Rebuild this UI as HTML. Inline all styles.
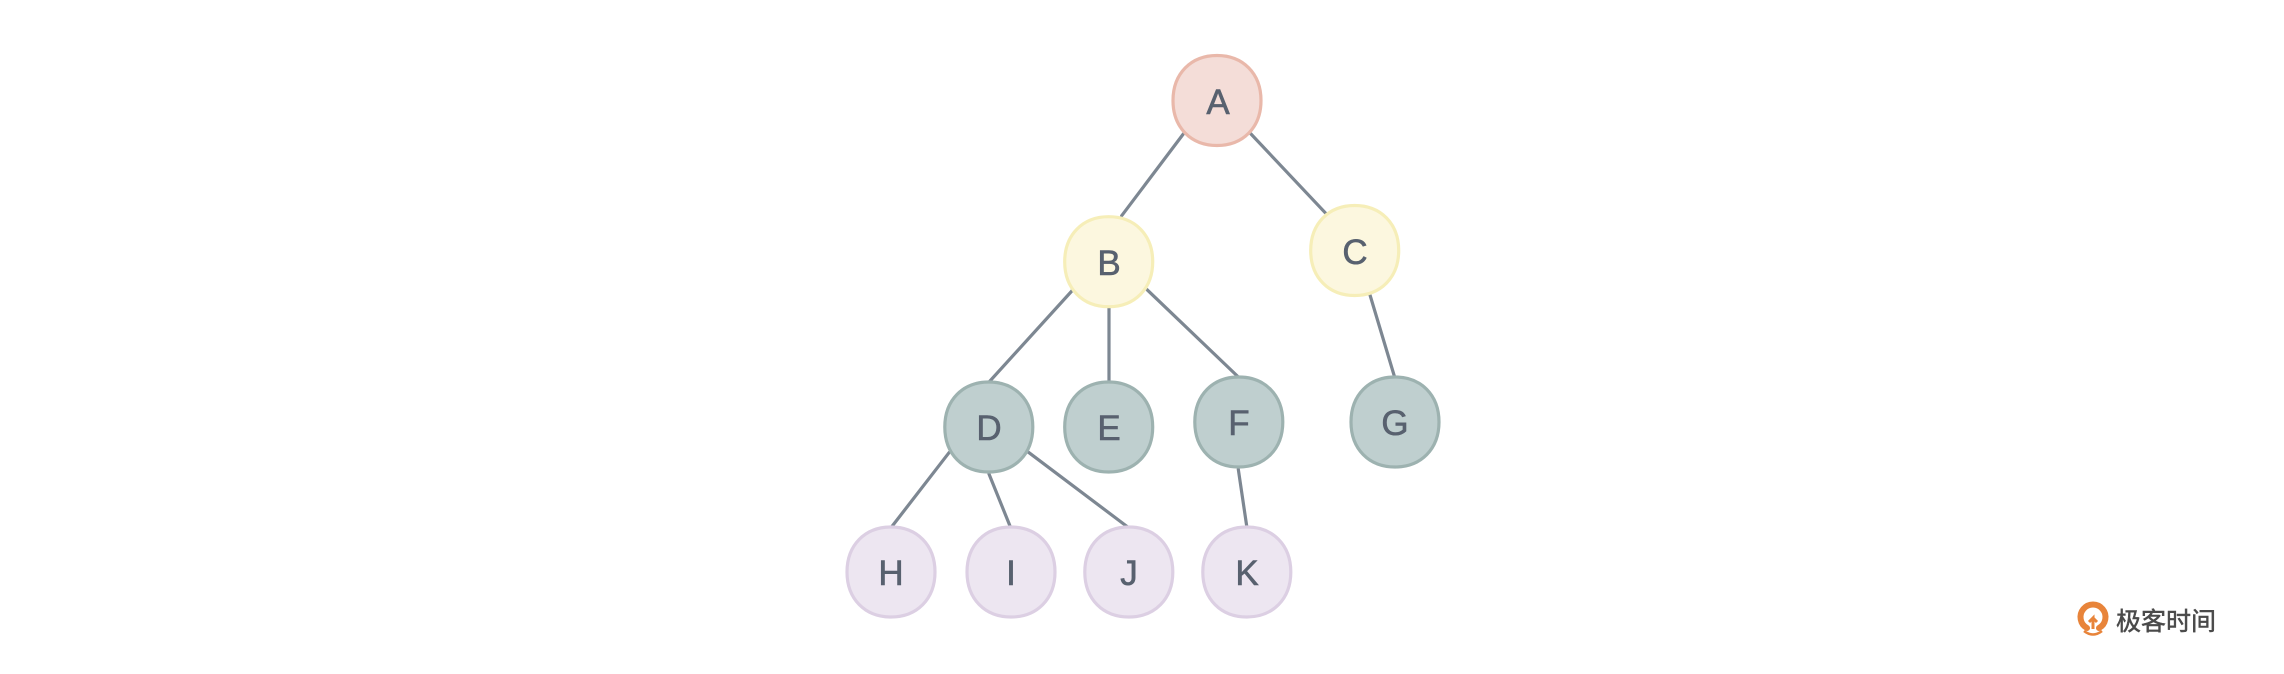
<!DOCTYPE html>
<html>
<head>
<meta charset="utf-8">
<style>
html,body{margin:0;padding:0;background:#ffffff;}
body{width:2284px;height:674px;overflow:hidden;}
svg{display:block;}
text{font-family:"Liberation Sans",Arial,sans-serif;}
</style>
</head>
<body>
<svg width="2284" height="674" viewBox="0 0 2284 674" xmlns="http://www.w3.org/2000/svg">
  <defs>
    <path id="n" d="M0,-45 C26,-45 44,-27 44,0 C44,27 26,45 0,45 C-26,45 -44,27 -44,0 C-44,-27 -26,-45 0,-45 Z"/>
  </defs>
  <rect width="2284" height="674" fill="#ffffff"/>
  <!-- edges -->
  <g stroke="#7d8792" stroke-width="3.2" stroke-linecap="round" fill="none">
    <line x1="1183.3" y1="134" x2="1121.7" y2="215.7"/>
    <line x1="1251" y1="134" x2="1326.7" y2="214.3"/>
    <line x1="1370" y1="295" x2="1394.3" y2="376"/>
    <line x1="1072.7" y1="290" x2="990" y2="381"/>
    <line x1="1109" y1="308" x2="1109" y2="381"/>
    <line x1="1146" y1="288.7" x2="1237.3" y2="376"/>
    <line x1="1238.3" y1="469.3" x2="1246.7" y2="526"/>
    <line x1="949" y1="452.7" x2="892.3" y2="526"/>
    <line x1="989" y1="474" x2="1010" y2="526"/>
    <line x1="1027.7" y1="451.7" x2="1127.7" y2="527"/>
  </g>
  <!-- nodes -->
  <g stroke-width="3.2">
    <use href="#n" transform="translate(1217,100.5)" fill="#f4ddd8" stroke="#e9b8aa"/>
    <use href="#n" transform="translate(1108.7,261.7)" fill="#fcf7df" stroke="#f6eeb8"/>
    <use href="#n" transform="translate(1354.7,250.5)" fill="#fcf7df" stroke="#f6eeb8"/>
    <use href="#n" transform="translate(988.8,427)" fill="#bfcfcf" stroke="#9db2b0"/>
    <use href="#n" transform="translate(1108.7,427)" fill="#bfcfcf" stroke="#9db2b0"/>
    <use href="#n" transform="translate(1238.8,422)" fill="#bfcfcf" stroke="#9db2b0"/>
    <use href="#n" transform="translate(1395,422)" fill="#bfcfcf" stroke="#9db2b0"/>
    <use href="#n" transform="translate(891,572)" fill="#ede6f1" stroke="#dccfe3"/>
    <use href="#n" transform="translate(1011,572)" fill="#ede6f1" stroke="#dccfe3"/>
    <use href="#n" transform="translate(1128.8,572)" fill="#ede6f1" stroke="#dccfe3"/>
    <use href="#n" transform="translate(1246.8,572)" fill="#ede6f1" stroke="#dccfe3"/>
  </g>
  <!-- labels -->
  <g fill="#58616f" font-size="35" text-anchor="middle" stroke="#58616f" stroke-width="0.6">
    <text x="1218" y="114">A</text>
    <text x="1109" y="275">B</text>
    <text x="1355" y="264">C</text>
    <text x="989" y="440">D</text>
    <text x="1109" y="440">E</text>
    <text x="1239" y="435">F</text>
    <text x="1395" y="435">G</text>
    <text x="891" y="585">H</text>
    <text x="1011" y="585">I</text>
    <text x="1129" y="585">J</text>
    <text x="1247" y="585">K</text>
  </g>
  <!-- logo -->
  <g>
    <path d="M2087 628 A12.5 12.5 0 1 1 2099 628" fill="none" stroke="#e8843a" stroke-width="6" stroke-linecap="round"/>
    <path d="M2093 629 L2093 618 L2089 622 M2093 618 L2097 622" fill="none" stroke="#e8843a" stroke-width="3"/>
    <path d="M2084 631 Q2093 638 2102 631" fill="none" stroke="#e8843a" stroke-width="2.5"/>
    <text x="2116" y="630" font-size="25" fill="#4a4a4a" stroke="#4a4a4a" stroke-width="0.5" style="font-family:'Liberation Sans','Noto Sans CJK SC',sans-serif;">极客时间</text>
  </g>
</svg>
</body>
</html>
